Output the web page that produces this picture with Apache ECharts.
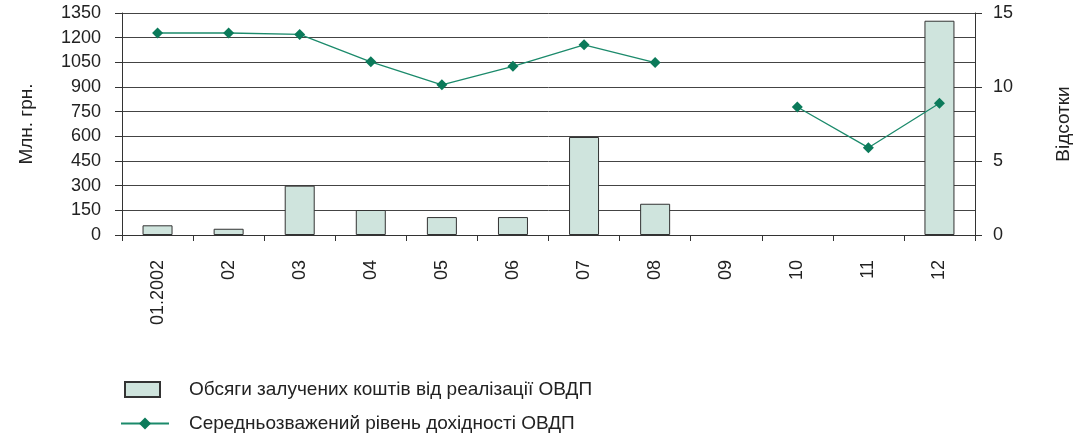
<!DOCTYPE html>
<html>
<head>
<meta charset="utf-8">
<script src="https://cdn.jsdelivr.net/npm/echarts@6/dist/echarts.min.js"></script>
<style>
  html, body { margin: 0; padding: 0; background: #fff; }
  #chart { width: 1073px; height: 439px; }
</style>
</head>
<body>
<div id="chart"></div>
<script>
// months of 2002
const categories = ['01.2002', '02', '03', '04', '05', '06', '07', '08', '09', '10', '11', '12']
// обсяги залучених коштів, млн. грн.
const volumes = [59, 38, 300, 152, 109, 109, 596, 190, null, null, null, 1303]
// середньозважений рівень дохідності, %
const yields = [13.65, 13.65, 13.55, 11.7, 10.15, 11.4, 12.85, 11.65, null, 8.65, 5.9, 8.9]

const barName = 'Обсяги залучених коштів від реалізації ОВДП'
const lineName = 'Середньозважений рівень дохідності ОВДП'

const font = '"Liberation Sans", Arial, sans-serif'
const textColor = '#222'

const chart = echarts.init(document.getElementById('chart'))
const option = {
  animation: false,
  textStyle: { fontFamily: font, color: textColor },
  grid: {
    left: 122,
    right: 98,
    top: 13,
    bottom: 204,
    outerBoundsMode: 'none'
  },
  legend: [
    {
      orient: 'vertical',
      left: 124,
      top: 380,
      padding: 0,
      itemWidth: 35,
      itemHeight: 15,
      icon: 'rect',
      data: [barName],
      textStyle: { fontSize: 19, color: textColor, fontFamily: font, padding: [0, 0, 0, 24] }
    },
    {
      orient: 'vertical',
      left: 120,
      top: 414,
      padding: 0,
      itemWidth: 48,
      itemHeight: 15,
      data: [lineName],
      textStyle: { fontSize: 19, color: textColor, fontFamily: font, padding: [0, 0, 0, 15] }
    }
  ],
  xAxis: {
    type: 'category',
    data: categories,
    axisLine: { lineStyle: { color: '#333', width: 1 } },
    axisTick: { show: true, length: 6, lineStyle: { color: '#333' } },
    axisLabel: {
      rotate: 90,
      margin: 25,
      fontSize: 18,
      color: textColor,
      fontFamily: font
    }
  },
  yAxis: [
    {
      type: 'value',
      min: 0,
      max: 1350,
      interval: 150,
      name: 'Млн. грн.',
      nameLocation: 'middle',
      nameRotate: 90,
      nameGap: 86,
      nameTextStyle: { fontSize: 19, color: textColor, fontFamily: font },
      axisLine: { show: true, lineStyle: { color: '#333' } },
      axisTick: { show: true, length: 7, lineStyle: { color: '#333' } },
      axisLabel: {
        fontSize: 18,
        margin: 21,
        color: textColor,
        fontFamily: font,
        formatter: v => String(v)
      },
      splitLine: { show: true, lineStyle: { color: '#444', width: 1 } }
    },
    {
      type: 'value',
      min: 0,
      max: 15,
      interval: 5,
      name: 'Відсотки',
      nameLocation: 'middle',
      nameRotate: 90,
      nameGap: 79,
      nameTextStyle: { fontSize: 19, color: textColor, fontFamily: font },
      axisLine: { show: true, lineStyle: { color: '#333' } },
      axisTick: { show: true, length: 7, lineStyle: { color: '#333' } },
      axisLabel: { fontSize: 18, margin: 18, color: textColor, fontFamily: font },
      splitLine: { show: false }
    }
  ],
  series: [
    {
      name: barName,
      type: 'bar',
      yAxisIndex: 0,
      data: volumes,
      barWidth: 30,
      itemStyle: {
        color: '#cfe4dd',
        borderColor: '#333',
        borderWidth: 1
      }
    },
    {
      name: lineName,
      type: 'line',
      yAxisIndex: 1,
      data: yields,
      connectNulls: false,
      symbol: 'diamond',
      symbolSize: 11,
      lineStyle: { color: '#1b8a6b', width: 1.3 },
      itemStyle: { color: '#0b7a5a' }
    }
  ]
}
chart.setOption(option)
</script>
</body>
</html>
